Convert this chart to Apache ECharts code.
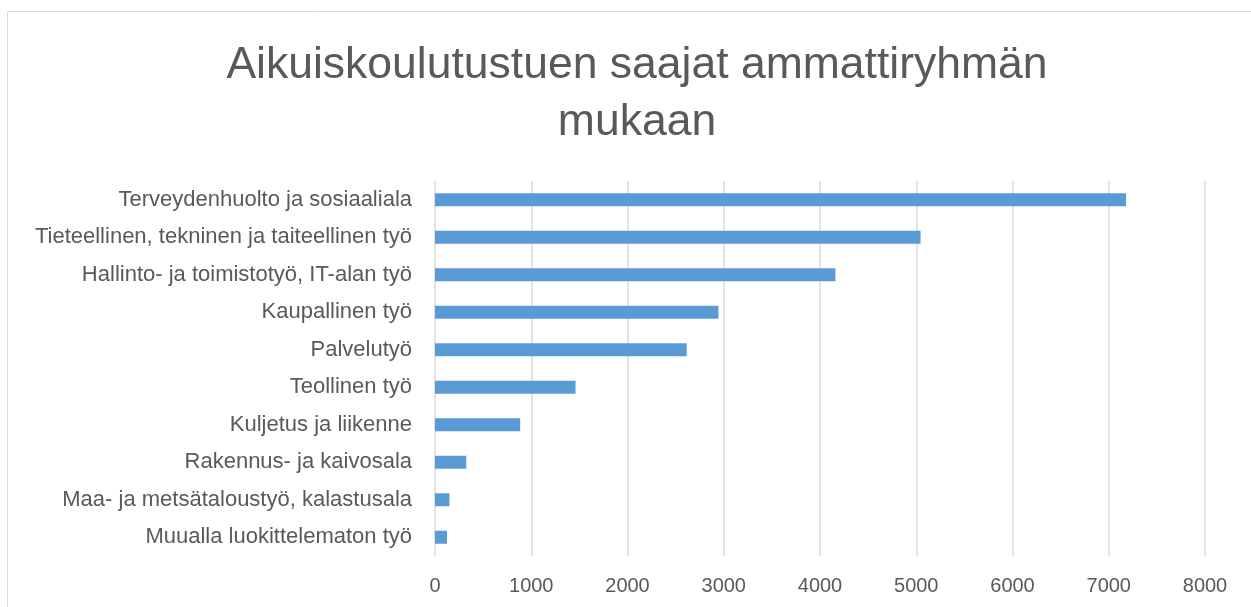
<!DOCTYPE html>
<html>
<head>
<meta charset="utf-8">
<script src="https://cdn.jsdelivr.net/npm/echarts@6/dist/echarts.min.js"></script>
<style>
  html, body { margin: 0; padding: 0; background: #ffffff; }
  #chart { width: 1251px; height: 607px; }
</style>
</head>
<body>
<div id="chart"></div>
<script>
// Occupational groups, top to bottom
const categories = [
  'Terveydenhuolto ja sosiaaliala',
  'Tieteellinen, tekninen ja taiteellinen työ',
  'Hallinto- ja toimistotyö, IT-alan työ',
  'Kaupallinen työ',
  'Palvelutyö',
  'Teollinen työ',
  'Kuljetus ja liikenne',
  'Rakennus- ja kaivosala',
  'Maa- ja metsätaloustyö, kalastusala',
  'Muualla luokittelematon työ'
];

// Number of recipients per group
const recipients = [7180, 5045, 4160, 2945, 2615, 1460, 885, 325, 150, 125];

const xMin = 0;
const xMax = 8000;
const xStep = 1000;

const chart = echarts.init(document.getElementById('chart'), null, { renderer: 'canvas' });

const textColor = '#595959';
const font = '"Liberation Sans", Arial, sans-serif';

chart.setOption({
  backgroundColor: '#ffffff',
  animation: false,
  title: {
    text: 'Aikuiskoulutustuen saajat ammattiryhmän\nmukaan',
    left: 632,
    top: 32,
    textAlign: 'center',
    textStyle: {
      color: textColor,
      fontFamily: font,
      fontSize: 44.5,
      fontWeight: 'normal',
      lineHeight: 57
    }
  },
  graphic: [{
    type: 'rect',
    shape: { x: 7.5, y: 11.5, width: 1300, height: 700 },
    style: { fill: 'none', stroke: '#d9d9d9', lineWidth: 1 },
    silent: true,
    z: -1
  }],
  grid: {
    left: 435,
    right: 46,
    top: 181,
    bottom: 51,
    containLabel: false
  },
  xAxis: {
    type: 'value',
    min: xMin,
    max: xMax,
    interval: xStep,
    axisLine: { show: false },
    axisTick: { show: false },
    axisLabel: {
      color: textColor,
      fontFamily: font,
      fontSize: 20,
      margin: 20,
      formatter: (v) => String(v)
    },
    splitLine: {
      show: true,
      lineStyle: { color: '#d9d9d9', width: 1.5 }
    }
  },
  yAxis: {
    type: 'category',
    data: categories,
    inverse: true,
    axisLine: { show: false },
    axisTick: { show: false },
    axisLabel: {
      color: textColor,
      fontFamily: font,
      fontSize: 22,
      margin: 23
    }
  },
  series: [{
    type: 'bar',
    data: recipients,
    barWidth: 13,
    itemStyle: { color: '#5b9bd5' }
  }]
});
</script>
</body>
</html>
